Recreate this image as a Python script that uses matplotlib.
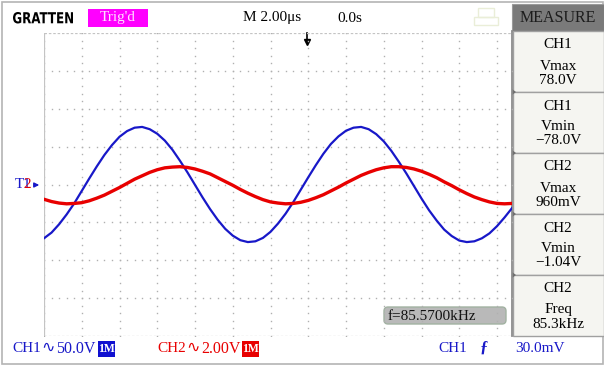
import matplotlib.pyplot as plt
from matplotlib.patches import Rectangle, FancyBboxPatch, Polygon, PathPatch
from matplotlib.textpath import TextPath
from matplotlib.font_manager import FontProperties
from matplotlib.transforms import Affine2D

# samples, in divisions (x from left edge, y from centre)
x_div = [0.0, 0.2, 0.4, 0.6, 0.8, 1.0, 1.2, 1.4, 1.6, 1.8,
         2.0, 2.2, 2.4, 2.6, 2.8, 3.0, 3.2, 3.4, 3.6, 3.8,
         4.0, 4.2, 4.4, 4.6, 4.8, 5.0, 5.2, 5.4, 5.6, 5.8,
         6.0, 6.2, 6.4, 6.6, 6.8, 7.0, 7.2, 7.4, 7.6, 7.8,
         8.0, 8.2, 8.4, 8.6, 8.8, 9.0, 9.2, 9.4, 9.6, 9.8,
         10.0, 10.2, 10.4, 10.6, 10.8, 11.0, 11.2, 11.4, 11.6, 11.8,
         12.0, 12.2, 12.4]
ch1_div = [-1.42, -1.27, -1.05, -0.79, -0.50, -0.17, 0.16, 0.48, 0.78, 1.04,
           1.26, 1.41, 1.50, 1.52, 1.46, 1.34, 1.16, 0.92, 0.63, 0.32,
           -0.01, -0.34, -0.65, -0.93, -1.17, -1.35, -1.47, -1.52, -1.50, -1.41,
           -1.25, -1.03, -0.77, -0.47, -0.14, 0.19, 0.51, 0.81, 1.07, 1.27,
           1.42, 1.50, 1.52, 1.46, 1.33, 1.14, 0.89, 0.60, 0.29, -0.04,
           -0.37, -0.68, -0.95, -1.19, -1.36, -1.48, -1.52, -1.50, -1.42, -1.29,
           -1.10, -0.87, -0.62]
ch2_div = [-0.39, -0.45, -0.49, -0.51, -0.50, -0.48, -0.43, -0.36, -0.28, -0.18,
           -0.08, 0.03, 0.14, 0.23, 0.32, 0.39, 0.44, 0.46, 0.47, 0.45,
           0.41, 0.35, 0.28, 0.18, 0.08, -0.02, -0.13, -0.23, -0.32, -0.40,
           -0.46, -0.49, -0.51, -0.50, -0.47, -0.42, -0.35, -0.27, -0.17, -0.07,
           0.04, 0.14, 0.24, 0.32, 0.39, 0.44, 0.47, 0.47, 0.45, 0.41,
           0.35, 0.27, 0.18, 0.07, -0.03, -0.14, -0.24, -0.33, -0.40, -0.46,
           -0.50, -0.51, -0.50]

measure_ch = ["CH1", "CH1", "CH2", "CH2", "CH2"]
measure_name = ["Vmax", "Vmin", "Vmax", "Vmin", "Freq"]
measure_val = ["78.0V", "\u221278.0V", "960mV", "\u22121.04V", "85.3kHz"]

BLUE = "#1818c8"
RED = "#e80000"

plt.rcParams['font.family'] = ['Liberation Serif', 'DejaVu Sans']

fig = plt.figure(figsize=(6.04, 3.65), dpi=100)
fig.patch.set_facecolor("white")

# pixel-space background layer
bg = fig.add_axes([0, 0, 1, 1])
bg.set_xlim(0, 604)
bg.set_ylim(365, 0)
bg.axis("off")
bg.add_patch(Rectangle((1.5, 1.5), 601, 362, fill=False, ec="#b4b4b4", lw=1.2))

# header logo, squeezed into its box
logo = TextPath((0, 0), "GRATTEN", size=15,
                prop=FontProperties(family="DejaVu Sans", weight="bold"))
ext = logo.get_extents()
sx = 60 / ext.width
sy = 11.5 / ext.height
tr = Affine2D().translate(-ext.x0, -ext.y0).scale(sx, -sy).translate(13, 23.5)
bg.add_patch(PathPatch(tr.transform_path(logo), fc="black", ec="none"))

bg.add_patch(Rectangle((88, 9), 60, 18, fc="#ff00ff", ec="none"))
bg.text(118, 18, "Trig'd", fontsize=11, color="#ffe0ff", ha="center", va="center")
bg.text(243, 18, "M 2.00\u03bcs", fontsize=11, ha="left", va="center")
bg.text(337, 18, "0.0s", fontsize=11, ha="left", va="center")
bg.add_patch(Rectangle((478, 8), 16, 9, fill=False, ec="#eaeed8", lw=1))
bg.add_patch(Rectangle((474, 17), 24, 8, fill=False, ec="#eaeed8", lw=1))

# measure menu
bg.add_patch(Rectangle((512, 4), 92, 27, fc="#7a7a7a", ec="#9a9a9a", lw=0.8))
bg.text(558, 18, "MEASURE", fontsize=11.5, color="#1c1c1c", ha="center", va="center")
for i in range(5):
    y0 = 31 + i * 61
    bg.add_patch(Rectangle((513, y0), 91, 61, fc="#f5f5f1", ec="#a0a0a0", lw=1))
    bg.text(558, y0 + 14, measure_ch[i], fontsize=11, ha="center", va="center")
    bg.text(558, y0 + 35, measure_name[i], fontsize=11, ha="center", va="center")
    bg.text(558, y0 + 49, measure_val[i], fontsize=11, ha="center", va="center")
    if i > 0:
        bg.add_patch(Polygon([[512, y0 - 3], [516, y0], [512, y0 + 3]], fc="#707070", ec="none"))
bg.plot([512, 512], [31, 336], color="#8c8c8c", lw=1.3)

# trigger markers
bg.plot([307, 307], [33, 41], color="black", lw=1.2)
bg.plot([307], [42], marker="v", ms=4.5, color="black")
bg.text(15, 185, "T", fontsize=11, color=BLUE, ha="left", va="center")
bg.text(23, 185, "1", fontsize=11, color=BLUE, ha="left", va="center")
bg.text(23, 185, "2", fontsize=11, color=RED, ha="left", va="center")
bg.annotate("", xy=(42, 185), xytext=(32, 185),
            arrowprops=dict(arrowstyle="-|>", color=BLUE, lw=1, mutation_scale=7))

# frequency readout
bg.add_patch(FancyBboxPatch((384, 307), 122, 17, boxstyle="round,pad=0,rounding_size=4",
                            fc="#b9b9b9", ec="#a2b2a2", lw=1))
bg.text(388, 316, "f=85.5700kHz", fontsize=11, ha="left", va="center", color="#111111")

# channel footer
bg.text(12, 349, "CH1", fontsize=11, color=BLUE, ha="left", va="center")
bg.text(41, 347, "\u223f", fontsize=11.5, color=BLUE, ha="left", va="center", family="DejaVu Sans")
bg.text(56, 349, "50.0V", fontsize=11.5, color=BLUE, ha="left", va="center")
bg.add_patch(Rectangle((98, 341), 17, 16, fc="#1010d0", ec="none"))
bg.text(106.5, 349.5, "1M", fontsize=8.5, color="white", weight="bold", ha="center", va="center")
bg.text(157, 349, "CH2", fontsize=11, color=RED, ha="left", va="center")
bg.text(186, 347, "\u223f", fontsize=11.5, color=RED, ha="left", va="center", family="DejaVu Sans")
bg.text(201, 349, "2.00V", fontsize=11.5, color=RED, ha="left", va="center")
bg.add_patch(Rectangle((242, 341), 17, 16, fc="#e80000", ec="none"))
bg.text(250.5, 349.5, "1M", fontsize=8.5, color="white", weight="bold", ha="center", va="center")
bg.text(438, 349, "CH1", fontsize=11, color=BLUE, ha="left", va="center")
bg.text(480, 348, "\u0192", fontsize=12, color=BLUE, ha="left", va="center", weight="bold")
bg.text(515, 349, "30.0mV", fontsize=11, color=BLUE, ha="left", va="center")

# scope screen
ax = fig.add_axes([44 / 604, 29 / 365, 468 / 604, 303 / 365])
ax.set_xlim(0, 468 / 37.75)
ax.set_ylim(-4, 4)
ax.patch.set_alpha(0)
ax.axis("off")

dots_x = [j * 0.2 for j in range(63)]
dots_y = [-4 + j * 0.2 for j in range(41)]
for k in range(13):
    ax.plot([k] * len(dots_y), dots_y, ls="none", marker="s", ms=1.0, mew=0, color="#b0b0b0")
for k in range(-3, 4):
    ax.plot(dots_x, [k] * len(dots_x), ls="none", marker="s", ms=1.0, mew=0, color="#b0b0b0")
ax.plot([0, 12.4], [4, 4], color="#c4c4c4", lw=0.9, ls=(0, (2, 1.5)))
ax.plot([0, 12.4], [-4, -4], color="#c4c4c4", lw=0.9, ls=(0, (2, 1.5)))
ax.plot([0, 0], [-4, 4], color="#c4c4c4", lw=0.9)

ax.plot(x_div, ch1_div, color=BLUE, lw=1.6, solid_joinstyle="round")
ax.plot(x_div, ch2_div, color=RED, lw=2.4, solid_joinstyle="round")

fig.savefig("out.png", dpi=100)
